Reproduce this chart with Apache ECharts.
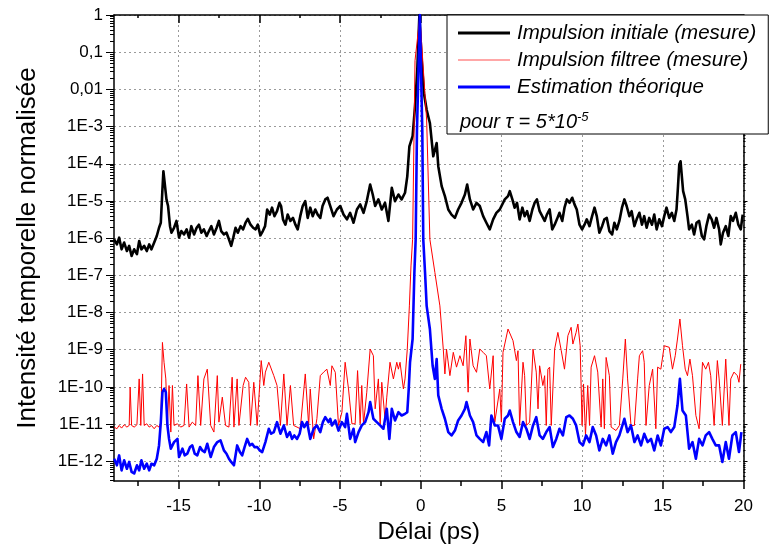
<!DOCTYPE html>
<html>
<head>
<meta charset="utf-8">
<script src="https://cdn.jsdelivr.net/npm/echarts@6/dist/echarts.min.js"></script>
<style>
html,body{margin:0;padding:0;background:#fff;}
#chart{width:784px;height:549px;}
</style>
</head>
<body>
<div id="chart"></div>
<script>
// ---------- data (delay in ps, normalised intensity) ----------
const seriesNames = ['Impulsion initiale (mesure)', 'Impulsion filtree (mesure)', 'Estimation théorique'];

const initialPulse = [
[-18.99,9.3e-7],[-18.82,6.8e-7],[-18.68,1.03e-6],[-18.53,5.0e-7],[-18.37,7.6e-7],[-18.20,4.5e-7],[-18.06,6.2e-7],[-17.91,3.3e-7],[-17.75,5.0e-7],[-17.58,3.7e-7],[-17.44,8.4e-7],[-17.30,5.0e-7],[-17.13,6.2e-7],[-16.97,4.5e-7],[-16.82,6.8e-7],[-16.68,5.0e-7],[-16.51,7.6e-7],[-16.35,1.14e-6],[-16.21,1.9e-6],[-16.10,2.6e-6],[-16.00,2.03e-5],[-15.94,6.3e-5],[-15.84,6.7e-5],[-15.75,1.10e-5],[-15.65,7.3e-6],[-15.53,2.1e-6],[-15.44,1.40e-6],[-15.28,1.9e-6],[-15.13,2.9e-6],[-14.97,1.03e-6],[-14.83,1.55e-6],[-14.66,1.26e-6],[-14.50,1.72e-6],[-14.35,1.03e-6],[-14.21,2.1e-6],[-14.04,1.26e-6],[-13.88,1.9e-6],[-13.74,2.3e-6],[-13.59,1.40e-6],[-13.43,1.72e-6],[-13.26,1.14e-6],[-13.12,1.55e-6],[-12.97,2.1e-6],[-12.81,1.26e-6],[-12.64,1.9e-6],[-12.50,2.9e-6],[-12.36,1.55e-6],[-12.19,1.26e-6],[-12.03,1.40e-6],[-11.88,9.3e-7],[-11.74,6.2e-7],[-11.61,1.03e-6],[-11.47,1.9e-6],[-11.33,1.40e-6],[-11.16,2.1e-6],[-11.00,1.72e-6],[-10.85,2.6e-6],[-10.71,3.3e-6],[-10.54,2.3e-6],[-10.38,1.9e-6],[-10.23,1.72e-6],[-10.09,2.3e-6],[-9.93,1.19e-6],[-9.78,1.55e-6],[-9.64,2.1e-6],[-9.51,5.9e-6],[-9.35,4.3e-6],[-9.21,6.6e-6],[-9.06,3.9e-6],[-8.90,5.3e-6],[-8.75,8.9e-6],[-8.65,7.3e-6],[-8.53,3.2e-6],[-8.38,2.3e-6],[-8.24,4.3e-6],[-8.07,2.9e-6],[-7.91,3.5e-6],[-7.76,2.3e-6],[-7.62,1.72e-6],[-7.46,3.9e-6],[-7.31,7.3e-6],[-7.15,9.9e-6],[-7.00,3.5e-6],[-6.84,6.6e-6],[-6.69,3.9e-6],[-6.53,5.9e-6],[-6.38,4.3e-6],[-6.22,3.5e-6],[-6.08,7.3e-6],[-5.91,1.10e-5],[-5.77,1.22e-5],[-5.60,7.3e-6],
[-5.40,3.9e-6],[-5.19,5.9e-6],[-4.98,7.3e-6],[-4.78,4.3e-6],[-4.57,3.2e-6],[-4.37,4.8e-6],[-4.16,2.6e-6],[-3.95,5.9e-6],[-3.75,8.1e-6],[-3.54,4.8e-6],[-3.34,9.9e-6],[-3.13,2.77e-5],[-2.97,1.49e-5],[-2.82,7.3e-6],[-2.62,1.10e-5],[-2.41,5.9e-6],[-2.21,8.9e-6],[-2.00,2.9e-6],[-1.79,2.25e-5],[-1.59,9.9e-6],[-1.38,1.49e-5],[-1.18,1.10e-5],[-0.97,1.66e-5],[-0.83,4.6e-5],[-0.70,2.95e-4],[-0.50,5.5e-4],[-0.35,3.5e-3],[-0.21,3.35e-2],[-0.08,1],[0.06,6.2e-2],[0.20,7.9e-3],[0.37,2.84e-3],[0.57,1.25e-3],[0.78,1.59e-4],[0.99,3.6e-4],[1.09,8.6e-5],[1.30,2.5e-5],[1.50,1.35e-5],[1.71,5.9e-6],[1.91,4.3e-6],[2.12,3.5e-6],[2.32,5.9e-6],[2.53,8.9e-6],[2.74,1.49e-5],[2.88,2.77e-5],[3.05,1.10e-5],[3.25,5.9e-6],[3.46,8.9e-6],[3.66,7.3e-6],[3.87,3.9e-6],[4.07,2.6e-6],[4.28,1.72e-6],[4.49,3.2e-6],[4.69,4.8e-6],[4.90,5.9e-6],[5.21,1.10e-5],[5.41,1.35e-5],
[5.52,1.83e-5],[5.68,1.10e-5],[5.82,6.6e-6],[5.97,8.9e-6],[6.13,3.2e-6],[6.30,6.6e-6],[6.44,3.9e-6],[6.59,5.3e-6],[6.75,2.9e-6],[6.92,5.9e-6],[7.06,8.9e-6],[7.20,1.10e-5],[7.37,5.3e-6],[7.53,3.9e-6],[7.68,2.9e-6],[7.82,4.3e-6],[7.99,5.9e-6],[8.15,1.72e-6],[8.30,2.3e-6],[8.44,3.2e-6],[8.60,4.8e-6],[8.77,2.9e-6],[8.91,6.6e-6],[9.06,1.10e-5],[9.22,8.9e-6],[9.39,1.22e-5],[9.53,8.1e-6],[9.67,5.9e-6],[9.84,2.3e-6],[10.00,1.72e-6],[10.15,2.3e-6],[10.29,3.2e-6],[10.46,2.1e-6],[10.62,3.9e-6],[10.77,6.6e-6],[10.91,3.9e-6],[11.07,1.40e-6],[11.24,2.1e-6],[11.38,3.2e-6],[11.53,3.5e-6],[11.69,1.55e-6],[11.86,1.26e-6],[12.00,2.6e-6],[12.15,1.72e-6],[12.31,2.9e-6],[12.47,6.6e-6],[12.62,1.10e-5],[12.76,7.3e-6],[12.93,3.9e-6],[13.07,5.3e-6],[13.24,2.1e-6],[13.38,3.2e-6],[13.55,4.8e-6],[13.71,2.3e-6],[13.85,3.9e-6],[14.00,1.9e-6],[14.16,3.5e-6],[14.33,2.3e-6],[14.47,4.3e-6],[14.62,1.72e-6],[14.78,3.2e-6],[14.95,2.1e-6],[15.09,3.9e-6],[15.23,6.6e-6],[15.40,3.5e-6],[15.56,4.8e-6],[15.71,2.9e-6],[15.85,5.9e-6],[15.93,2.03e-5],[16.02,9.5e-5],[16.10,1.17e-4],[16.18,4.6e-5],[16.26,1.83e-5],[16.39,1.10e-5],[16.53,3.9e-6],[16.63,1.72e-6],[16.80,2.3e-6],[16.94,1.26e-6],[17.09,2.6e-6],[17.25,2.9e-6],[17.42,1.14e-6],[17.56,9.3e-7],[17.70,2.1e-6],[17.87,4.3e-6],[18.03,3.2e-6],[18.18,1.9e-6],[18.32,3.5e-6],[18.49,1.72e-6],[18.59,6.8e-7],[18.73,1.40e-6],[18.90,2.1e-6],[19.06,1.14e-6],[19.21,3.9e-6],[19.35,2.9e-6],[19.52,4.8e-6],[19.68,2.3e-6],[19.83,1.72e-6],[19.95,4.3e-6]
];

const filteredPulse = [
[-18.99,8.3e-12],[-18.82,7.5e-12],[-18.68,9.2e-12],[-18.53,7.8e-12],[-18.37,9.6e-12],[-18.20,8.3e-12],[-18.06,9.2e-12],[-18.00,9.8e-11],[-17.91,9.2e-12],[-17.75,8.3e-12],[-17.58,9.6e-12],[-17.44,1.64e-10],[-17.34,9.2e-12],[-17.23,2.23e-10],[-17.13,9.2e-12],[-16.97,1.02e-11],[-16.82,8.3e-12],[-16.68,9.2e-12],[-16.51,7.5e-12],[-16.35,9.2e-12],[-16.21,8.3e-12],[-16.10,1.02e-11],[-16.00,1.57e-9],[-15.90,4.6e-10],[-15.79,1.64e-10],[-15.69,9.2e-12],[-15.59,1.09e-10],[-15.48,6.1e-12],[-15.38,1.09e-10],[-15.28,9.2e-12],[-15.07,1.02e-11],[-14.87,8.3e-12],[-14.66,9.2e-12],[-14.50,1.20e-10],[-14.35,8.3e-12],[-14.15,1.13e-11],[-13.94,9.2e-12],[-13.80,2.01e-10],[-13.63,9.2e-12],[-13.43,1.64e-10],[-13.22,3.0e-10],[-13.01,9.2e-12],[-12.81,6.1e-12],[-12.60,2.01e-10],[-12.50,1.13e-11],[-12.29,5.3e-11],[-12.09,9.2e-12],[-11.88,8.3e-12],[-11.68,1.82e-10],[-11.57,8.3e-12],[-11.37,1.64e-10],[-11.26,9.2e-12],[-11.00,1.09e-10],[-10.85,1.82e-10],[-10.65,1.33e-10],[-10.54,9.2e-12],[-10.34,1.33e-10],[-10.13,9.2e-12],[-9.88,5.1e-10],[-9.72,1.09e-10],[-9.62,2.5e-10],[-9.41,4.6e-10],[-9.31,4.1e-10],[-9.10,2.01e-10],[-8.90,1.09e-10],[-8.69,9.2e-12],[-8.48,2.23e-10],[-8.28,9.2e-12],[-8.07,1.09e-10],[-7.87,9.2e-12],[-7.66,8.3e-12],[-7.46,7.5e-12],[-7.15,2.23e-10],[-6.94,9.2e-12],[-6.84,8.8e-11],[-6.63,4.0e-12],[-6.43,1.39e-11],[-6.22,2.01e-10],[-6.01,2.5e-10],[-5.81,3.0e-10],[-5.60,1.09e-10],
[-5.50,3.7e-10],[-5.29,2.47e-10],[-5.09,9.2e-12],[-4.88,2.09e-11],[-4.68,4.6e-10],[-4.47,8.8e-11],[-4.26,1.02e-11],[-4.06,1.02e-11],[-3.91,2.74e-10],[-3.75,1.02e-11],[-3.65,1.09e-10],[-3.54,1.02e-11],[-3.34,7.2e-11],[-3.13,1.04e-9],[-2.93,6.9e-10],[-2.82,2.57e-11],[-2.62,1.64e-10],[-2.51,9.2e-12],[-2.41,1.33e-10],[-2.21,1.39e-11],[-2.10,5.3e-11],[-1.90,4.6e-10],[-1.69,1.64e-10],[-1.48,4.6e-10],[-1.38,3.0e-10],[-1.28,4.6e-10],[-1.07,8.8e-11],[-0.97,1.64e-10],[-0.83,1.04e-9],[-0.70,1.51e-8],[-0.60,1.79e-7],[-0.50,9.3e-7],[-0.35,6.0e-2],[-0.05,0.9],[0.06,0.17],[0.37,1.5e-3],[0.57,9.3e-7],[0.88,1.19e-7],[1.19,1.51e-8],[1.40,1.04e-9],[1.50,2.23e-10],[1.60,1.04e-9],[1.81,2.01e-10],[2.02,8.5e-10],[2.22,3.4e-10],[2.43,6.9e-10],[2.63,3.7e-10],[2.80,2.38e-9],[2.94,7.2e-11],[3.05,1.94e-9],[3.25,3.7e-10],[3.46,2.47e-10],[3.66,1.04e-9],[3.87,8.5e-10],[4.07,6.9e-10],[4.28,8.8e-11],[4.49,6.9e-10],[4.59,1.13e-11],[4.69,1.13e-11],[4.90,8.8e-11],[5.00,1.13e-11],[5.10,8.5e-10],[5.41,3.6e-9],
[5.72,1.75e-9],[5.93,5.1e-10],[6.03,9.4e-10],[6.13,9.2e-12],[6.34,4.6e-10],[6.44,2.0e-10],[6.55,9.2e-12],[6.75,1.13e-11],[6.96,1.04e-9],[7.16,2.5e-10],[7.27,2.57e-11],[7.37,3.7e-10],[7.57,1.09e-10],[7.68,2.0e-10],[7.78,9.2e-12],[7.88,3.0e-10],[7.99,3.4e-10],[8.09,9.2e-12],[8.30,1.04e-9],[8.50,2.92e-9],[8.71,9.4e-10],[8.91,3.0e-10],[9.12,2.38e-9],[9.32,4.0e-9],[9.43,1.42e-9],[9.63,2.92e-9],[9.74,4.9e-9],[9.88,1.28e-9],[10.00,9.2e-12],[10.09,1.20e-10],[10.21,4.95e-12],[10.35,1.09e-10],[10.46,9.2e-12],[10.56,3.4e-10],[10.77,6.9e-10],[10.97,2.5e-10],[11.18,8.3e-12],[11.28,1.64e-10],[11.38,7.5e-12],[11.49,6.2e-10],[11.69,2.0e-10],[11.80,8.3e-12],[11.90,7.5e-12],[12.10,6.7e-12],[12.31,9.2e-12],[12.52,1.64e-10],[12.68,1.94e-9],[12.82,1.64e-10],[13.03,9.2e-12],[13.24,9.2e-12],[13.44,1.64e-10],[13.55,6.9e-10],[13.75,9.4e-10],[13.85,4.6e-10],[13.96,9.2e-12],[14.16,1.09e-10],[14.37,3.0e-10],[14.57,7.5e-12],[14.68,3.4e-10],[14.88,3.0e-10],[15.09,1.28e-9],[15.40,1.16e-9],[15.60,3.0e-10],[15.77,6.9e-10],[15.91,1.94e-9],[16.06,6.7e-9],[16.22,1.28e-9],[16.39,3.0e-10],[16.53,2.0e-10],[16.68,5.6e-10],[16.84,2.0e-10],[17.05,1.70e-11],[17.25,7.5e-12],[17.46,4.6e-10],[17.66,3.0e-10],[17.83,4.6e-10],[17.97,2.0e-10],[18.18,9.2e-12],[18.38,5.1e-10],[18.49,1.64e-10],[18.69,9.2e-12],[18.90,5.6e-10],[19.10,9.2e-12],[19.21,1.64e-10],[19.41,2.5e-10],[19.62,2.0e-10],[19.72,1.33e-10],[19.83,4.1e-10]
];

const theoreticalPulse = [
[-18.99,1.17e-12],[-18.82,7.8e-13],[-18.68,1.44e-12],[-18.53,5.7e-13],[-18.37,1.06e-12],[-18.20,6.3e-13],[-18.06,9.6e-13],[-17.91,5.2e-13],[-17.75,4.7e-13],[-17.58,7.8e-13],[-17.44,5.7e-13],[-17.30,1.06e-12],[-17.13,6.3e-13],[-16.97,8.6e-13],[-16.82,5.7e-13],[-16.68,8.6e-13],[-16.51,7.8e-13],[-16.35,1.17e-12],[-16.21,2.67e-12],[-16.10,1.13e-11],[-16.00,7.2e-11],[-15.90,8.8e-11],[-15.79,7.2e-11],[-15.69,9.2e-12],[-15.59,4.0e-12],[-15.48,2.18e-12],[-15.28,3.28e-12],[-15.07,4.0e-12],[-14.97,1.30e-12],[-14.76,2.18e-12],[-14.62,1.44e-12],[-14.46,1.60e-12],[-14.29,2.41e-12],[-14.15,2.67e-12],[-14.00,1.60e-12],[-13.84,1.44e-12],[-13.67,2.41e-12],[-13.53,1.96e-12],[-13.38,1.77e-12],[-13.22,2.96e-12],[-13.01,1.30e-12],[-12.81,2.41e-12],[-12.60,3.28e-12],[-12.40,3.64e-12],[-12.19,1.96e-12],[-12.03,1.60e-12],[-11.88,1.17e-12],[-11.74,9.6e-13],[-11.57,7.8e-13],[-11.37,2.67e-12],[-11.20,1.77e-12],[-11.06,1.44e-12],[-10.91,2.41e-12],[-10.75,4.0e-12],[-10.58,2.67e-12],[-10.44,2.96e-12],[-10.30,2.41e-12],[-10.13,2.41e-12],[-9.97,1.96e-12],[-9.82,1.77e-12],[-9.62,3.28e-12],[-9.41,7.5e-12],[-9.27,5.5e-12],[-9.10,6.1e-12],[-8.90,1.13e-11],[-8.69,5.5e-12],[-8.48,9.2e-12],[-8.28,4.5e-12],[-8.11,6.1e-12],[-7.97,4.0e-12],[-7.83,4.95e-12],[-7.66,4.0e-12],[-7.50,5.5e-12],[-7.35,1.13e-11],[-7.21,8.3e-12],[-7.04,1.13e-11],[-6.84,4.0e-12],[-6.63,7.5e-12],[-6.43,9.2e-12],[-6.22,6.1e-12],[-6.06,1.13e-11],[-5.91,1.54e-11],[-5.81,1.70e-11],[-5.71,1.13e-11],[-5.60,1.39e-11],
[-5.50,9.2e-12],[-5.29,1.25e-11],[-5.09,6.7e-12],[-4.88,1.13e-11],[-4.68,8.3e-12],[-4.57,1.89e-11],[-4.37,4.0e-12],[-4.16,7.5e-12],[-4.06,3.28e-12],[-3.85,6.1e-12],[-3.65,9.2e-12],[-3.44,1.13e-11],[-3.23,2.09e-11],[-3.13,3.9e-11],[-2.93,1.39e-11],[-2.72,1.13e-11],[-2.51,9.2e-12],[-2.31,7.5e-12],[-2.10,2.57e-11],[-1.94,4.0e-12],[-1.79,2.57e-11],[-1.59,1.25e-11],[-1.38,2.09e-11],[-1.18,1.70e-11],[-0.97,1.89e-11],[-0.83,2.09e-11],[-0.74,8.8e-11],[-0.66,4.6e-10],[-0.50,1.94e-9],[-0.39,1.19e-7],[-0.31,9.3e-7],[-0.23,8.0e-4],[-0.05,1],[0.10,8.0e-4],[0.16,9.3e-7],[0.27,1.19e-7],[0.37,1.51e-8],[0.57,3.6e-9],[0.74,3.7e-10],[0.88,1.64e-10],[0.99,5.6e-10],[1.09,5.9e-11],[1.30,2.57e-11],[1.50,1.39e-11],[1.71,6.1e-12],[1.91,4.95e-12],[2.12,6.7e-12],[2.32,1.25e-11],[2.53,1.70e-11],[2.74,2.57e-11],[2.84,3.9e-11],[3.05,1.70e-11],[3.25,1.13e-11],[3.46,4.95e-12],[3.66,4.0e-12],[3.87,3.28e-12],[4.07,6.1e-12],[4.24,2.67e-12],[4.38,1.70e-11],[4.59,9.2e-12],[4.79,9.2e-12],[5.00,4.0e-12],[5.21,1.39e-11],[5.41,1.70e-11],
[5.52,2.32e-11],[5.72,1.13e-11],[5.93,6.1e-12],[6.13,4.5e-12],[6.34,1.13e-11],[6.55,7.5e-12],[6.75,4.0e-12],[6.96,9.2e-12],[7.16,1.54e-11],[7.37,4.95e-12],[7.57,4.0e-12],[7.78,6.1e-12],[7.99,8.3e-12],[8.19,2.41e-12],[8.40,4.0e-12],[8.60,7.5e-12],[8.81,4.95e-12],[9.02,1.54e-11],[9.22,1.70e-11],[9.43,1.39e-11],[9.63,9.2e-12],[9.84,3.28e-12],[10.05,2.67e-12],[10.25,4.95e-12],[10.46,3.28e-12],[10.66,8.3e-12],[10.87,4.95e-12],[11.07,1.96e-12],[11.28,4.0e-12],[11.49,2.67e-12],[11.69,4.95e-12],[11.90,1.60e-12],[12.10,3.28e-12],[12.31,4.95e-12],[12.62,1.39e-11],[12.82,6.1e-12],[13.03,9.2e-12],[13.24,3.28e-12],[13.44,4.95e-12],[13.65,2.67e-12],[13.85,5.5e-12],[14.06,3.28e-12],[14.27,4.0e-12],[14.47,1.96e-12],[14.68,4.95e-12],[14.88,2.67e-12],[15.09,7.5e-12],[15.30,8.3e-12],[15.50,6.1e-12],[15.71,8.3e-12],[15.91,3.16e-11],[16.06,1.64e-10],[16.22,2.32e-11],[16.43,1.70e-11],[16.63,2.18e-12],[16.84,3.28e-12],[17.05,1.17e-12],[17.25,4.0e-12],[17.46,2.67e-12],[17.66,4.95e-12],[17.87,6.1e-12],[18.07,4.0e-12],[18.28,2.67e-12],[18.49,2.67e-12],[18.69,9.6e-13],[18.90,3.28e-12],[19.10,1.17e-12],[19.31,4.95e-12],[19.52,6.1e-12],[19.72,1.77e-12],[19.87,6.1e-12]
];

// ---------- axis ticks ----------
const xTickValues = [-15, -10, -5, 0, 5, 10, 15, 20];
const xMinorTickValues = [-17.5, -12.5, -7.5, -2.5, 2.5, 7.5, 12.5, 17.5];
const yTickValues = [1e-12, 1e-11, 1e-10, 1e-9, 1e-8, 1e-7, 1e-6, 1e-5, 1e-4, 1e-3, 1e-2, 1e-1, 1];
const yTickLabels = ['1E-12', '1E-11', '1E-10', '1E-9', '1E-8', '1E-7', '1E-6', '1E-5', '1E-4', '1E-3', '0,01', '0,1', '1'];
const logMantissas = [2, 3, 4, 5, 6, 7, 8, 9];
const xMin = -19, xMax = 20;
const yMin = 2.95e-13, yMax = 1;

const yMinorTickValues = [];
[1e-13].concat(yTickValues.slice(0, -1)).forEach(function (d) {
  logMantissas.forEach(function (m) {
    const v = m * d;
    if (v >= yMin && v <= yMax) yMinorTickValues.push(v);
  });
});

const FONT = 'Liberation Sans, Arial, sans-serif';
const gridLine = { show: true, lineStyle: { color: '#9a9a9a', width: 1, type: [2, 3] } };

function yLabel(v) {
  for (let i = 0; i < yTickValues.length; i++) {
    if (Math.abs(Math.log10(yTickValues[i]) - Math.log10(v)) < 1e-6) return yTickLabels[i];
  }
  return '';
}

const chart = echarts.init(document.getElementById('chart'), null, { renderer: 'canvas' });

function xAxisDef(pos, values, len, inside, withLabel, withLine, withSplit) {
  return {
    type: 'value', position: pos, min: xMin, max: xMax,
    axisLine: { show: withLine, onZero: false, lineStyle: { color: '#000', width: 1.5 } },
    axisTick: { show: true, inside: inside, length: len, customValues: values, lineStyle: { color: '#000', width: 1.5 } },
    axisLabel: withLabel ? { show: true, customValues: values, color: '#000', fontSize: 17, fontFamily: FONT, margin: 17 } : { show: false },
    splitLine: withSplit ? gridLine : { show: false },
    minorTick: { show: false }
  };
}
function yAxisDef(pos, values, len, inside, withLabel, withLine, withSplit) {
  return {
    type: 'log', logBase: 10, position: pos, min: yMin, max: yMax,
    axisLine: { show: withLine, onZero: false, lineStyle: { color: '#000', width: 1.5 } },
    axisTick: { show: true, inside: inside, length: len, customValues: values, lineStyle: { color: '#000', width: 1 } },
    axisLabel: withLabel ? { show: true, customValues: values, color: '#000', fontSize: 17, fontFamily: FONT, margin: 11, formatter: yLabel } : { show: false },
    splitLine: withSplit ? gridLine : { show: false },
    minorTick: { show: false }
  };
}

const xAxes = [
  xAxisDef('bottom', xTickValues, 8, false, true, true, true),
  xAxisDef('bottom', xMinorTickValues, 5, false, false, false, false),
  xAxisDef('top', xTickValues, 8, true, false, true, false),
  xAxisDef('top', xMinorTickValues, 3, true, false, false, false)
];
xAxes[0].name = 'Délai (ps)';
xAxes[0].nameLocation = 'middle';
xAxes[0].nameGap = 39;
xAxes[0].nameTextStyle = { fontSize: 24, fontFamily: FONT, color: '#000' };

const yAxes = [
  yAxisDef('left', yTickValues, 8, false, true, true, true),
  yAxisDef('left', yMinorTickValues, 4, false, false, false, false),
  yAxisDef('right', yTickValues, 4, false, false, true, false),
  yAxisDef('right', yMinorTickValues, 2, false, false, false, false)
];
yAxes[0].name = 'Intensité temporelle normalisée';
yAxes[0].nameLocation = 'middle';
yAxes[0].nameGap = 73;
yAxes[0].nameTextStyle = { fontSize: 26, fontFamily: FONT, color: '#000' };

function lineSeries(name, data, color, width, z) {
  return {
    name: name, type: 'line', data: data, xAxisIndex: 0, yAxisIndex: 0,
    symbol: 'none', showSymbol: false, clip: true, z: z,
    lineStyle: { color: color, width: width, join: 'round' },
    itemStyle: { color: color },
    emphasis: { disabled: true }
  };
}

chart.setOption({
  animation: false,
  backgroundColor: '#fff',
  grid: { left: 114, right: 40.5, top: 15, bottom: 68, containLabel: false, outerBoundsMode: 'none' },
  xAxis: xAxes,
  yAxis: yAxes,
  legend: {
    data: [
      { name: seriesNames[0], icon: 'path://M0,0H52V3H0Z', itemStyle: { color: '#000000' } },
      { name: seriesNames[1], icon: 'path://M0,0H52V1H0Z', itemStyle: { color: '#ff5050' } },
      { name: seriesNames[2], icon: 'path://M0,0H52V3H0Z', itemStyle: { color: '#0000ff' } }
    ],
    orient: 'vertical',
    left: 447, top: 15,
    itemWidth: 52, itemHeight: 3, itemGap: 7,
    padding: [8, 12, 37, 11],
    backgroundColor: '#fff',
    borderColor: '#000', borderWidth: 1,
    textStyle: { fontSize: 20.5, fontStyle: 'italic', fontFamily: FONT, color: '#000', padding: [0, 0, 0, 2] },
    selectedMode: false,
    z: 10
  },
  graphic: [{
    type: 'text', left: 460, top: 111, z: 20,
    style: {
      text: '{a|pour τ = 5*10}{b|-5}',
      rich: {
        a: { fontSize: 20, fontStyle: 'italic', fontFamily: FONT, fill: '#000' },
        b: { fontSize: 13, fontStyle: 'italic', fontFamily: FONT, fill: '#000', verticalAlign: 'top', padding: [0, 0, 10, 0] }
      }
    }
  }],
  series: [
    lineSeries(seriesNames[0], initialPulse, '#000000', 2.6, 2),
    lineSeries(seriesNames[1], filteredPulse, '#ff0000', 1, 3),
    lineSeries(seriesNames[2], theoreticalPulse, '#0000ff', 2.6, 4)
  ]
});
</script>
</body>
</html>
